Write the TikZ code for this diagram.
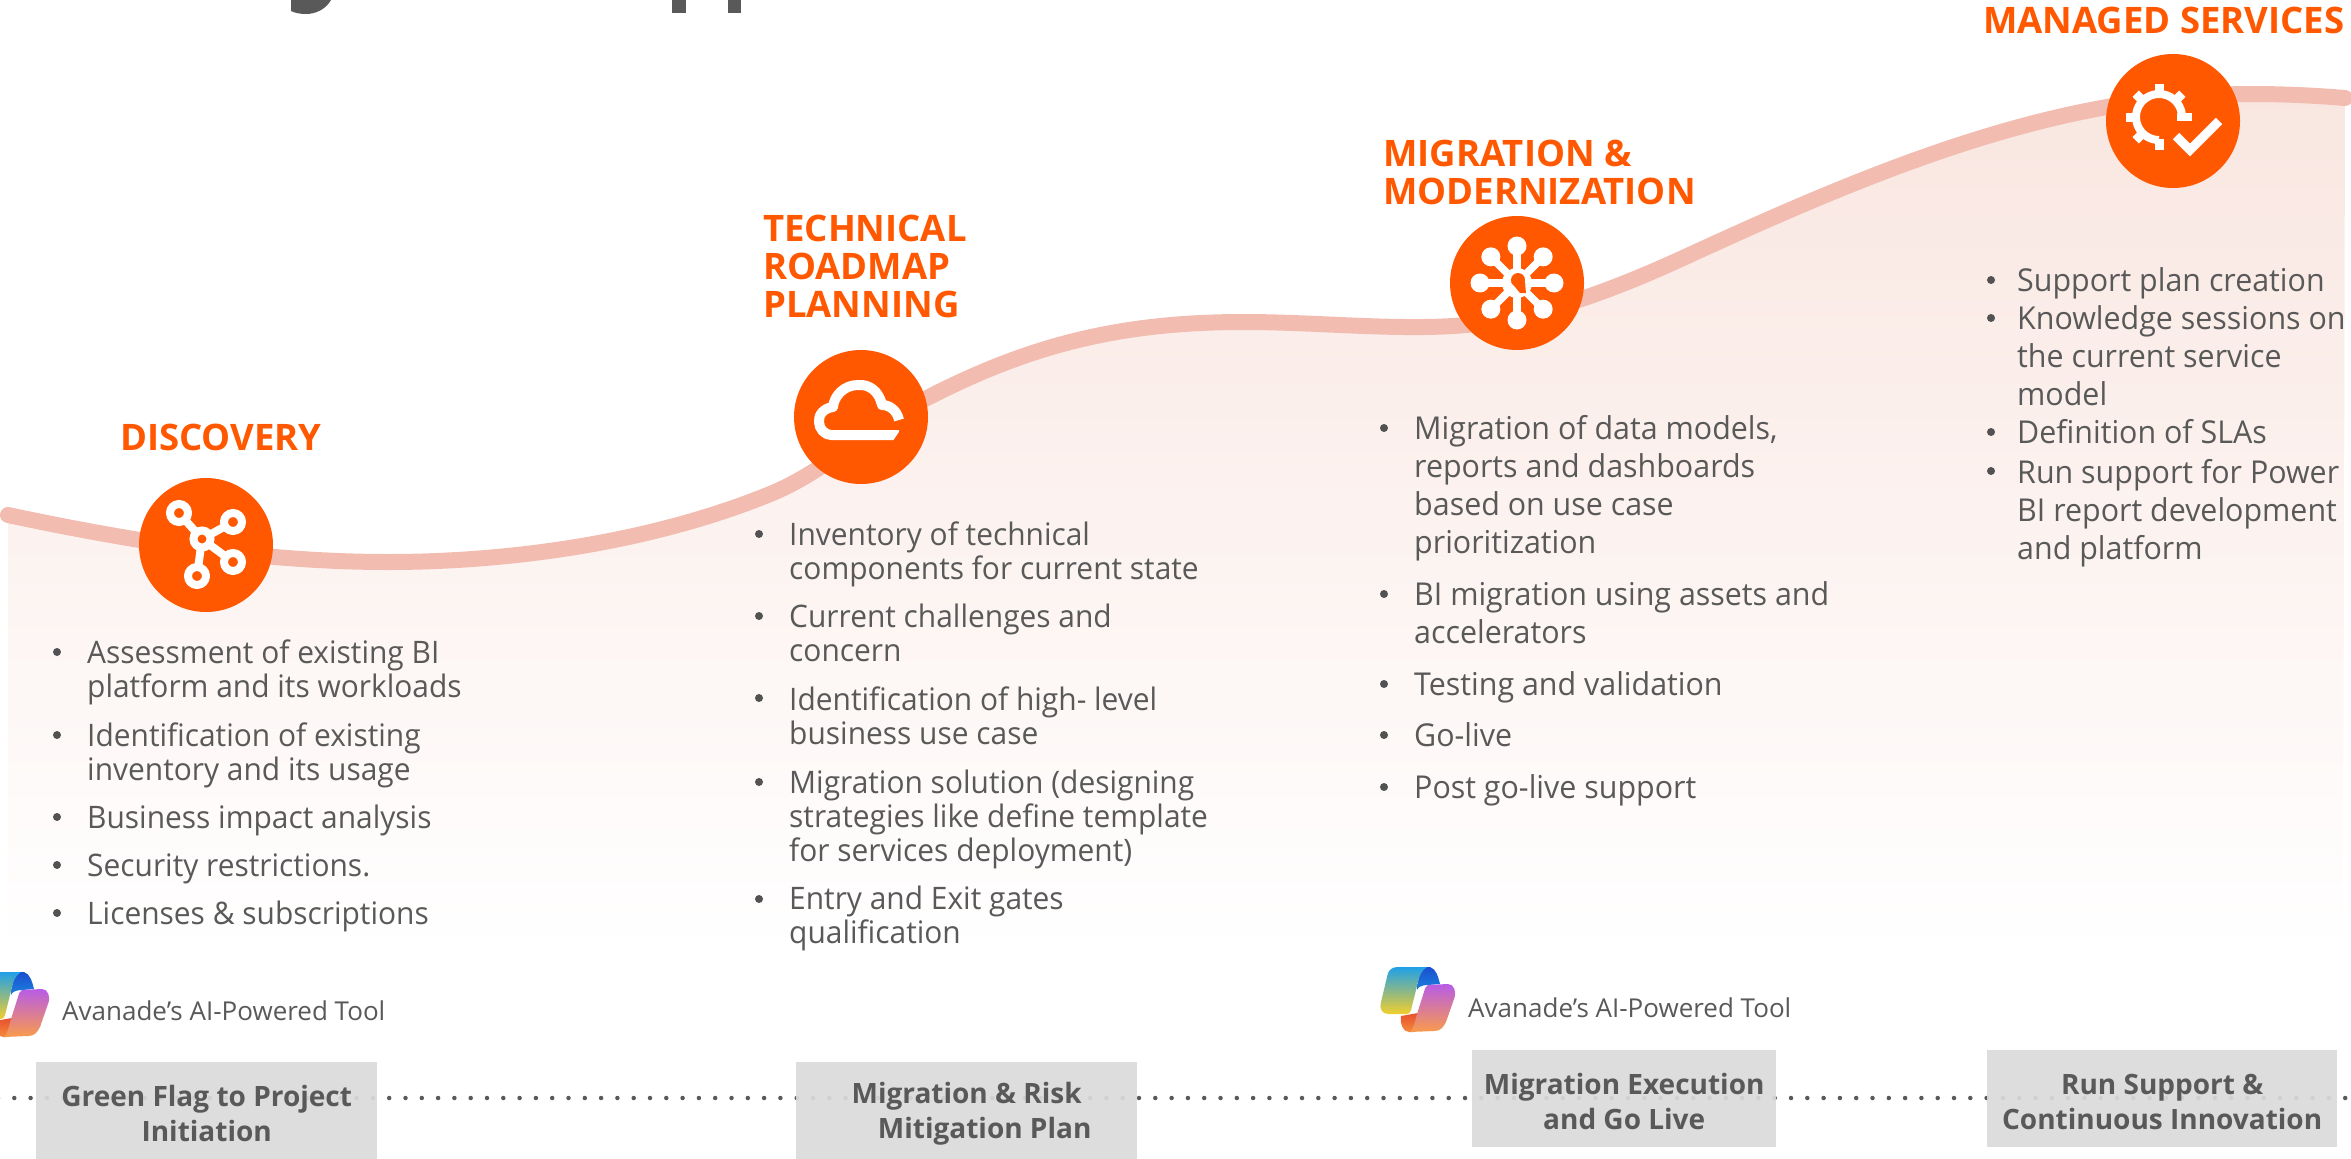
\documentclass[tikz,border=0pt]{standalone}
\usepackage{fontspec}
\setmainfont{Open Sans}
\newfontfamily\bodyfont[FakeStretch=0.965]{Open Sans}
\usetikzlibrary{calc}
\definecolor{orng}{HTML}{FF5800}
\definecolor{gry}{HTML}{595959}
\definecolor{boxg}{HTML}{DADADA}
\definecolor{road}{HTML}{F2BDB0}
\definecolor{fade}{HTML}{F9E6E0}
\definecolor{fademid}{HTML}{FCF4F1}
\definecolor{lgA}{HTML}{1FA0E8}
\definecolor{lgB}{HTML}{45B37A}
\definecolor{lgC}{HTML}{F2CF2C}
\definecolor{lgD}{HTML}{B85CE8}
\definecolor{lgE}{HTML}{F0649A}
\definecolor{lgF}{HTML}{F99B4A}
\definecolor{lgG}{HTML}{1B4FD0}
\definecolor{lgH}{HTML}{1B80DC}
\definecolor{lgI}{HTML}{E8502E}
\definecolor{lgJ}{HTML}{F58A3C}
\tikzset{
  head/.style={text=orng,font=\bfseries\fontsize{36.5}{38}\selectfont,align=left,inner sep=0pt},
  bodya/.style={text=gry,font=\bodyfont\fontsize{31}{34}\selectfont,align=left,anchor=west,inner sep=0pt},
  bodyb/.style={text=gry,font=\bodyfont\fontsize{31.5}{38}\selectfont,align=left,anchor=west,inner sep=0pt},
  tooltxt/.style={text=gry,font=\fontsize{26}{28}\selectfont,anchor=west,inner sep=0pt},
  gate/.style={fill=boxg,fill opacity=.93,text opacity=1,text=gry,font=\bfseries\fontsize{28}{35}\selectfont,align=center,inner sep=0pt,minimum height=97pt,anchor=north west},
  disc/.style={circle,fill=orng,minimum size=134pt,inner sep=0pt},
  glyph/.style={draw=white,line width=8pt,line cap=round,line join=round},
  bull/.style={fill=gry!92!black},
}
\newcommand{\curvepath}{(8,515) .. controls (135,542) and (262,562) .. (388,562)
  .. controls (519,562) and (660,540) .. (775,492)
  .. controls (830,468) and (870,426) .. (927,398)
  .. controls (1030,345) and (1120,322) .. (1244,322)
  .. controls (1318,322) and (1400,331) .. (1466,325)
  .. controls (1538,318) and (1611,291) .. (1683,258)
  .. controls (1824,193) and (1966,132) .. (2107,107)
  .. controls (2186,92) and (2266,91.5) .. (2345,98)}
\newcommand{\gs}{\rule{0pt}{27pt}}
% #1 style #2 name #3 text x #4 bullet x #5 y-first-line-centre #6 y-centre #7 text
\newcommand{\li}[7]{\fill[bull] (#4,#5) circle[radius=4pt]; \node[#1] (#2) at (#3,#6) {#7};}
\newcommand{\copilotlogo}[2]{%
  \begin{scope}[shift={(#1,#2)}]
    % red fold
    \shade[top color=lgI,bottom color=lgJ] (21,50) -- (38,47) -- (37,60) -- (33,66) -- (29,66)
      .. controls (23,66) and (20,58) .. (21,50) -- cycle;
    % dark blue fold
    \shade[top color=lgG,bottom color=lgH] (44,1) -- (50,1) .. controls (56,3) and (58,10) .. (60,18)
      -- (48,19) .. controls (42,19) and (38,21) .. (37,24) -- (38,16) .. controls (39,8) and (41,3) .. (44,1) -- cycle;
    % left blade
    \shade[top color=lgA,middle color=lgB,bottom color=lgC]
      (8,7) .. controls (10,3) and (13,1) .. (18,1) -- (47,1) .. controls (42,4) and (39,10) .. (38,16)
      -- (31,44) .. controls (30,47) and (29,48) .. (27,48) -- (8,48) .. controls (2,48) and (-1,42) .. (1,36) -- cycle;
    % right blade
    \shade[top color=lgD,middle color=lgE,bottom color=lgF]
      (48,19) -- (68,18) .. controls (74,18) and (77,26) .. (74,33) -- (66,56) .. controls (63,62) and (60,65) .. (54,65)
      -- (30,66) .. controls (33,64) and (35,56) .. (37,48) -- (44,26) .. controls (45,22) and (46,20) .. (48,19) -- cycle;
  \end{scope}}
\begin{document}
\begin{tikzpicture}[x=1pt,y=-1pt]
\useasboundingbox (0,0) rectangle (2351,1159);
\begin{scope}
\clip (0,0) rectangle (2351,1159);
% title remnants
\fill[gry] (291,0) -- (331,0) .. controls (326,9) and (316,14) .. (306,14) .. controls (300,14) and (295,13) .. (291,11) -- cycle;
\fill[gry] (672,0) rectangle (686,13);
\fill[gry] (728,0) rectangle (741,13);
% road
\shade[top color=fade,middle color=fademid,bottom color=white] \curvepath -- (2343,952) -- (8,952) -- cycle;
\draw[road,line width=16pt,line cap=round] \curvepath;
% dotted line
\coordinate (dl) at (-2,1098);
\coordinate (dr) at (2351,1098);
\draw[gry,line width=4.5pt,line cap=round,dash pattern=on 0pt off 16.3pt] (dl) -- (dr);
% gate boxes
\node[gate,minimum width=341pt] (g1) at (36,1062) {\gs Green Flag to Project\\Initiation};
\node[gate,minimum width=341pt] (g2) at (796,1062) {\gs Migration \& Risk\\\hspace{36pt}Mitigation Plan};
\node[gate,minimum width=304pt] (g3) at (1472,1050) {\gs Migration Execution\\and Go Live};
\node[gate,minimum width=350pt] (g4) at (1987,1050) {\gs Run Support \&\\Continuous Innovation};
% logos
\copilotlogo{-26}{971}
\copilotlogo{1380}{966}
\end{scope}
\node[tooltxt] (t1) at (62,1011) {Avanade’s AI-Powered Tool};
\node[tooltxt] (t2) at (1468,1008) {Avanade’s AI-Powered Tool};
% discs
\node[disc] (d1) at (206,545) {};
\node[disc] (d2) at (861,417) {};
\node[disc] (d3) at (1517,283) {};
\node[disc] (d4) at (2173,121) {};
% icon 1
\begin{scope}[shift={(d1.center)}]
  \draw[glyph,line width=8pt] (-27,-32) -- (-4,-6) (27,-23) -- (-4,-6) (27,17) -- (-4,-6) (-9,31) -- (-4,-6);
  \foreach \p/\r in {{(-27,-32)}/9,{(27,-23)}/9,{(27,17)}/9,{(-9,31)}/9,{(-4,-6)}/8.5}
    \draw[draw=white,line width=8pt,fill=orng] \p circle[radius=\r pt];
\end{scope}
% icon 2
\begin{scope}[shift={(d2.center)}]
  \draw[glyph,line width=10pt,line cap=butt] (38,3) .. controls (36,-7) and (28,-12) .. (21,-12)
    .. controls (18,-26) and (8,-33) .. (-3,-32) .. controls (-17,-32) and (-27,-21) .. (-28,-10)
    .. controls (-37,-9) and (-43,-2) .. (-42,5) .. controls (-42,12) and (-36,18) .. (-30,18) -- (38,18);
  \fill[orng] (40,12) -- (45,12) -- (45,24) -- (32,24) -- cycle;
\end{scope}
% icon 3
\begin{scope}[shift={(d3.center)}]
  \foreach \a in {0,45,...,315} {
    \draw[white,line width=7.5pt] (0,0) -- ({37*cos(\a)},{37*sin(\a)});
    \fill[white] ({37*cos(\a)},{37*sin(\a)}) circle[radius=9.5pt];
  }
  \fill[white] (0,0) circle[radius=15pt];
  \fill[orng] (1,-3) circle[radius=7pt];
  \fill[orng] (-6,-1) -- (8,-1) -- (9,10) -- (3,10) -- cycle;
\end{scope}
% icon 4
\begin{scope}[shift={(d4.center)}]
  \begin{scope}[shift={(-14,-4)}]
    \draw[white,line width=8pt] plot[domain=0:-270,samples=40] ({23*cos(\x)},{23*sin(\x)});
    \foreach \a in {-45,-90,-135,-180,-225,-270}
      \draw[white,line width=9pt] ({22*cos(\a)},{22*sin(\a)}) -- ({33*cos(\a)},{33*sin(\a)});
    \draw[white,line width=8pt] (18,0) -- (33,0);
  \end{scope}
  \draw[white,line width=9pt] (3,15) -- (17,29) -- (46,0);
\end{scope}
% headings
\node[head,anchor=west] (h1) at (120,437) {DISCOVERY};
\node[head,anchor=west] (h2) at (763,266) {TECHNICAL\\ROADMAP\\PLANNING};
\node[head,anchor=west] (h3) at (1383,172) {MIGRATION \&\\MODERNIZATION};
\node[head,anchor=west] (h4) at (1983,20) {MANAGED SERVICES};
% discovery
\li{bodya}{a1}{87}{57}{652}{672}{Assessment of existing BI\\platform and its workloads}
\li{bodya}{a2}{87}{57}{735}{755}{Identification of existing\\inventory and its usage}
\li{bodya}{a3}{87}{57}{817}{820}{Business impact analysis}
\li{bodya}{a4}{87}{57}{865}{869}{Security restrictions.}
\li{bodya}{a5}{87}{57}{913}{916}{Licenses \& subscriptions}
% technical
\li{bodya}{b1}{789}{759}{534}{554}{Inventory of technical\\components for current state}
\li{bodya}{b2}{789}{759}{616}{633}{Current challenges and\\concern}
\li{bodya}{b3}{789}{759}{698}{716}{Identification of high- level\\business use case}
\li{bodya}{b4}{789}{759}{782}{819}{Migration solution (designing\\strategies like define template\\for services deployment)}
\li{bodya}{b5}{789}{759}{899}{918}{Entry and Exit gates\\qualification}
% migration
\li{bodyb}{c1}{1414}{1384}{428}{488}{Migration of data models,\\reports and dashboards\\based on use case\\prioritization}
\li{bodyb}{c2}{1414}{1384}{594}{613}{BI migration using assets and\\accelerators}
\li{bodyb}{c3}{1414}{1384}{684}{687}{Testing and validation}
\li{bodyb}{c4}{1414}{1384}{735}{735}{Go-live}
\li{bodyb}{c5}{1414}{1384}{787}{790}{Post go-live support}
% managed
\li{bodyb}{e1}{2017}{1991}{280}{283}{Support plan creation}
\li{bodyb}{e2}{2017}{1991}{318}{356}{Knowledge sessions on\\the current service\\model}
\li{bodyb}{e3}{2017}{1991}{432}{432}{Definition of SLAs}
\li{bodyb}{e4}{2017}{1991}{471}{513}{Run support for Power\\BI report development\\and platform}
\end{tikzpicture}
\end{document}
